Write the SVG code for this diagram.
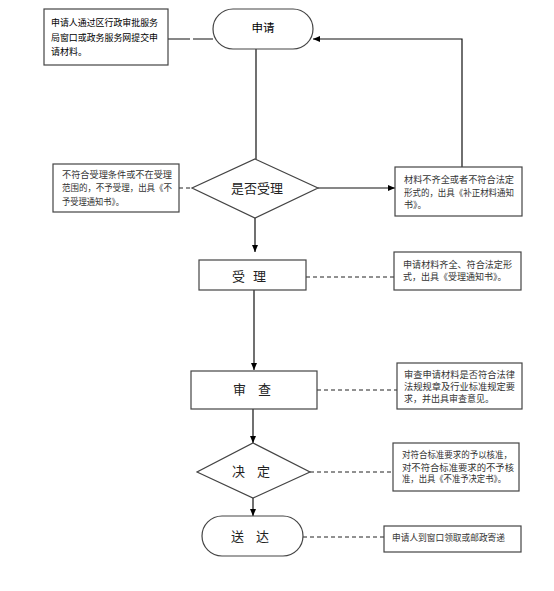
<svg xmlns="http://www.w3.org/2000/svg" width="554" height="591" viewBox="0 0 554 591">
<style>
.box{fill:#fff;stroke:#444;stroke-width:1.2}
.ln{fill:none;stroke:#111;stroke-width:1.2}
.dl{fill:none;stroke:#222;stroke-width:1;stroke-dasharray:4 3}
.t{font-family:"Liberation Sans","Noto Sans CJK SC",sans-serif;font-size:9px;fill:#333}
.m{font-family:"Liberation Serif","Noto Sans CJK SC",serif;font-size:13px;fill:#222;text-anchor:middle;dominant-baseline:central}
</style>
<defs>
<marker id="ar" markerWidth="8" markerHeight="8" refX="7" refY="4" orient="auto" markerUnits="userSpaceOnUse">
<path d="M0,1 L7,4 L0,7 Z" fill="#000"/>
</marker>
</defs>
<rect width="554" height="591" fill="#fff"/>
<g id="connectors">
<path class="ln" d="M168,39 H213" stroke-dasharray="22 3"/>
<path class="ln" d="M256,49 V159"/>
<path class="dl" d="M179,188 H192"/>
<path class="ln" d="M318,188 H395" marker-end="url(#ar)"/>
<path class="ln" d="M462,167 V39 H313" marker-end="url(#ar)"/>
<path class="ln" d="M255,218 V252" marker-end="url(#ar)"/>
<path class="dl" d="M306,277 H394"/>
<path class="ln" d="M254,290 V370" marker-end="url(#ar)"/>
<path class="dl" d="M317,390 H397"/>
<path class="ln" d="M253,409 V443" marker-end="url(#ar)"/>
<path class="dl" d="M310,472 H393"/>
<path class="ln" d="M253,498 V516" marker-end="url(#ar)"/>
<path class="dl" d="M303,537 H384"/>
</g>
<g id="n-note-apply">
<rect class="box" x="44" y="9" width="124" height="56"/>
<text class="t" x="51" y="26" style="fill:#000" textLength="107" lengthAdjust="spacingAndGlyphs">申请人通过区行政审批服务</text>
<text class="t" x="51" y="41" style="fill:#000" textLength="107" lengthAdjust="spacingAndGlyphs">局窗口或政务服务网提交申</text>
<text class="t" x="51" y="55" style="fill:#000">请材料。</text>
</g>
<g id="n-apply">
<rect class="box" x="213" y="9" width="100" height="40" rx="20" ry="20"/>
<text x="263" y="28" font-family="Liberation Sans,Noto Sans CJK SC,sans-serif" font-size="11.5" text-anchor="middle" dominant-baseline="central" fill="#000">申请</text>
</g>
<g id="n-reject">
<rect class="box" x="53" y="164" width="126" height="48"/>
<text class="t" x="62" y="178" textLength="110" lengthAdjust="spacingAndGlyphs">不符合受理条件或不在受理</text>
<text class="t" x="62" y="191" textLength="110" lengthAdjust="spacingAndGlyphs">范围的，不予受理，出具《不</text>
<text class="t" x="62" y="205" textLength="62" lengthAdjust="spacingAndGlyphs">予受理通知书》。</text>
</g>
<g id="n-accept-q">
<polygon class="box" points="255,159 318,188 255,218 192,188"/>
<text class="m" x="257" y="188">是否受理</text>
</g>
<g id="n-supplement">
<rect class="box" x="395" y="167" width="127" height="49"/>
<text class="t" x="404" y="183" textLength="110" lengthAdjust="spacingAndGlyphs">材料不齐全或者不符合法定</text>
<text class="t" x="404" y="196" textLength="110" lengthAdjust="spacingAndGlyphs">形式的，出具《补正材料通知</text>
<text class="t" x="404" y="208">书》。</text>
</g>
<g id="n-accept">
<rect class="box" x="199" y="260" width="107" height="30"/>
<text class="m" x="253" y="276" letter-spacing="8">受理</text>
</g>
<g id="n-accept-note">
<rect class="box" x="394" y="252" width="127" height="38"/>
<text class="t" x="403" y="268" textLength="109" lengthAdjust="spacingAndGlyphs">申请材料齐全、符合法定形</text>
<text class="t" x="403" y="280">式，出具《受理通知书》。</text>
</g>
<g id="n-review">
<rect class="box" x="191" y="371" width="126" height="38"/>
<text class="m" x="258" y="389" letter-spacing="12">审查</text>
</g>
<g id="n-review-note">
<rect class="box" x="397" y="363" width="125" height="46"/>
<text class="t" x="404" y="378" textLength="111" lengthAdjust="spacingAndGlyphs">审查申请材料是否符合法律</text>
<text class="t" x="404" y="390" textLength="111" lengthAdjust="spacingAndGlyphs">法规规章及行业标准规定要</text>
<text class="t" x="404" y="402">求，并出具审查意见。</text>
</g>
<g id="n-decide">
<polygon class="box" points="253,443 310,472 253,498 197,472"/>
<text class="m" x="257" y="471" letter-spacing="12">决定</text>
</g>
<g id="n-decide-note">
<rect class="box" x="393" y="443" width="126" height="48"/>
<text class="t" x="402" y="458" textLength="110" lengthAdjust="spacingAndGlyphs">对符合标准要求的予以核准，</text>
<text class="t" x="402" y="471" textLength="112" lengthAdjust="spacingAndGlyphs">对不符合标准要求的不予核</text>
<text class="t" x="402" y="482" textLength="104" lengthAdjust="spacingAndGlyphs">准，出具《不准予决定书》。</text>
</g>
<g id="n-deliver">
<rect class="box" x="202" y="516" width="101" height="40" rx="20" ry="20"/>
<text class="m" x="256" y="536" letter-spacing="12">送达</text>
</g>
<g id="n-deliver-note">
<rect class="box" x="384" y="526" width="137" height="26"/>
<text class="t" x="392" y="541" textLength="113" lengthAdjust="spacingAndGlyphs">申请人到窗口领取或邮政寄递</text>
</g>
</svg>
